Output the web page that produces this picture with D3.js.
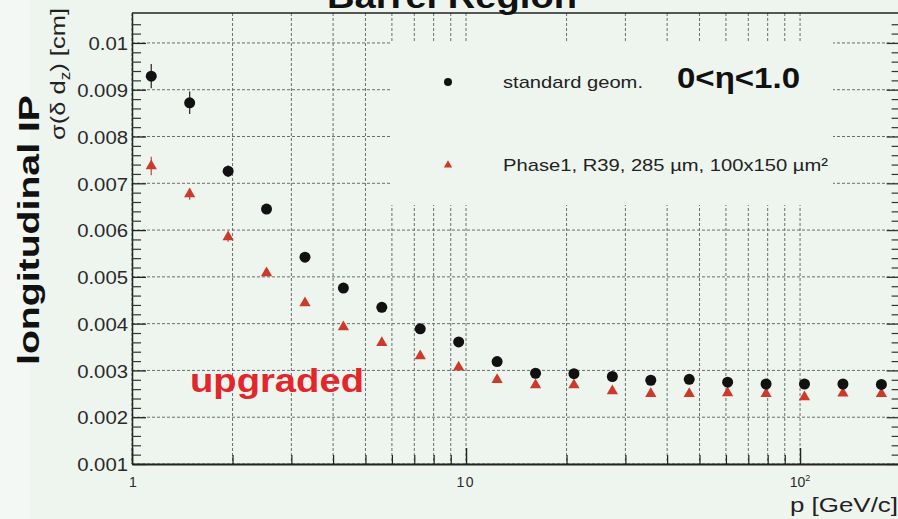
<!DOCTYPE html>
<html>
<head>
<meta charset="utf-8">
<script src="https://cdn.jsdelivr.net/npm/d3@7"></script>
<style>
  html, body { margin: 0; padding: 0; background: #eef5ef; }
  svg { display: block; }
  text { font-family: "Liberation Sans", Arial, Helvetica, sans-serif; }
</style>
</head>
<body>
<svg id="chart" width="898" height="519"></svg>
<script>
// Momentum bin centres [GeV/c] (20 log bins between 1 and 200)
const momentum = [1.142, 1.488, 1.940, 2.528, 3.295, 4.294, 5.596, 7.293, 9.505, 12.39,
                  16.15, 21.04, 27.42, 35.74, 46.58, 60.70, 79.11, 103.1, 134.4, 175.2];
// Longitudinal impact-parameter resolution sigma(delta d_z) [cm]
const standardSigma = [0.00929, 0.00872, 0.00726, 0.00645, 0.00542, 0.00476, 0.00435, 0.00389, 0.00361, 0.00319,
                       0.00294, 0.00293, 0.00287, 0.00279, 0.00281, 0.00275, 0.00271, 0.00271, 0.00271, 0.00270];
const standardErr   = [0.00026, 0.00024, 0.00012, 0.00007, 0.00006, 0.00005, 0.00004, 0.00004, 0.00004, 0.00003,
                       0.00003, 0.00003, 0.00003, 0.00003, 0.00003, 0.00003, 0.00003, 0.00003, 0.00003, 0.00003];
const phase1Sigma   = [0.00737, 0.00677, 0.00585, 0.00508, 0.00444, 0.00393, 0.00359, 0.00331, 0.00307, 0.00280,
                       0.00269, 0.00269, 0.00256, 0.00250, 0.00250, 0.00252, 0.00250, 0.00243, 0.00251, 0.00250];
const phase1Err     = [0.00020, 0.00012, 0.00010, 0.00006, 0.00005, 0.00004, 0.00004, 0.00003, 0.00003, 0.00003,
                       0.00003, 0.00003, 0.00003, 0.00003, 0.00003, 0.00003, 0.00003, 0.00003, 0.00003, 0.00003];

const seriesNames = ["standard geom.", "Phase1, R39, 285 \u00b5m, 100x150 \u00b5m\u00b2"];
const yTickValues = [0.001, 0.002, 0.003, 0.004, 0.005, 0.006, 0.007, 0.008, 0.009, 0.01];
const yTickLabels = ["0.001", "0.002", "0.003", "0.004", "0.005", "0.006", "0.007", "0.008", "0.009", "0.01"];
const xMajorTicks = [1, 10, 100];
const xMinorTicks = [2, 3, 4, 5, 6, 7, 8, 9, 20, 30, 40, 50, 60, 70, 80, 90, 200];

const svg = d3.select("#chart");
const bg = "#eef5ef";

const frame = { left: 132, right: 900.6, top: 13, bottom: 464 };
const x = d3.scaleLog().domain([1, 200]).range([frame.left, frame.right]);
const y = d3.scaleLinear().domain([0.001, 0.01064]).range([frame.bottom, frame.top]);

// lighter strip at the far left of the canvas
svg.append("rect").attr("x", 0).attr("y", 0).attr("width", 30).attr("height", 519).attr("fill", "#f4f8f4");

// grid
const grid = svg.append("g").attr("stroke", "#555").attr("stroke-width", 1)
  .attr("stroke-dasharray", "3,2").attr("opacity", 0.85);
grid.selectAll("line.v").data(xMajorTicks.concat(xMinorTicks)).join("line")
  .attr("x1", d => x(d)).attr("x2", d => x(d)).attr("y1", frame.top).attr("y2", frame.bottom);
grid.selectAll("line.h").data(yTickValues).join("line")
  .attr("x1", frame.left).attr("x2", frame.right).attr("y1", d => y(d)).attr("y2", d => y(d));

// legend area covers the grid
svg.append("rect").attr("x", 390).attr("y", 42).attr("width", 443).attr("height", 163).attr("fill", bg);

// minor tick positions on the value axis (every 0.0002)
const yMinor = d3.range(12, 106, 2).filter(v => v % 10 !== 0).map(v => v / 10000);

// left axis, ticks pointing inwards
const yAxis = d3.axisLeft(y).tickValues(yTickValues)
  .tickFormat((d, i) => yTickLabels[i]).tickSizeInner(-14).tickSizeOuter(0).tickPadding(5);
const gy = svg.append("g").attr("transform", `translate(${frame.left},0)`).call(yAxis);
gy.select(".domain").attr("stroke", "#222").attr("stroke-width", 1.5);
gy.selectAll(".tick line").attr("stroke", "#222").attr("stroke-width", 1.3);
gy.selectAll(".tick text").attr("font-size", 18).attr("fill", "#2a2a2a")
  .attr("x", 0).attr("transform", "translate(-4,1) scale(1.13,1)");
svg.append("g").attr("transform", `translate(${frame.left},0)`)
  .call(d3.axisLeft(y).tickValues(yMinor).tickSizeInner(-9).tickSizeOuter(0).tickFormat(""))
  .call(g => g.select(".domain").remove())
  .selectAll("line").attr("stroke", "#333").attr("stroke-width", 1.2);

// right axis ticks
svg.append("g").attr("transform", `translate(${frame.right},0)`)
  .call(d3.axisRight(y).tickValues(yTickValues).tickSizeInner(-14).tickSizeOuter(0).tickFormat(""))
  .selectAll("line").attr("stroke", "#333").attr("stroke-width", 1.3);
svg.append("g").attr("transform", `translate(${frame.right},0)`)
  .call(d3.axisRight(y).tickValues(yMinor).tickSizeInner(-9).tickSizeOuter(0).tickFormat(""))
  .call(g => g.select(".domain").remove())
  .selectAll("line").attr("stroke", "#333").attr("stroke-width", 1.2);

// bottom axis
const xAxis = d3.axisBottom(x).tickValues(xMajorTicks).tickSizeInner(-16).tickSizeOuter(0)
  .tickFormat(() => "");
const gx = svg.append("g").attr("transform", `translate(0,${frame.bottom})`).call(xAxis);
gx.select(".domain").attr("stroke", "#222").attr("stroke-width", 2);
gx.selectAll(".tick line").attr("stroke", "#222").attr("stroke-width", 1.4);
svg.append("g").attr("transform", `translate(0,${frame.bottom})`)
  .call(d3.axisBottom(x).tickValues(xMinorTicks).tickSizeInner(-9).tickSizeOuter(0).tickFormat(""))
  .call(g => g.select(".domain").remove())
  .selectAll("line").attr("stroke", "#222").attr("stroke-width", 1.2);
// x tick labels: 1, 10, 10^2
const xl = svg.append("g").attr("font-size", 14).attr("fill", "#2a2a2a").attr("text-anchor", "middle");
xl.append("text").attr("x", x(1) + 1).attr("y", 487).text("1");
xl.append("text").attr("x", x(10) - 1).attr("y", 487).attr("textLength", 17).text("10");
const t100 = xl.append("text").attr("x", x(100)).attr("y", 487);
t100.append("tspan").text("10");
t100.append("tspan").attr("font-size", 9).attr("dy", -6).text("2");

// top frame
svg.append("line").attr("x1", frame.left).attr("x2", frame.right).attr("y1", frame.top).attr("y2", frame.top)
  .attr("stroke", "#222").attr("stroke-width", 1.5);

// error bars
const eb = svg.append("g");
eb.selectAll("line.s").data(momentum).join("line")
  .attr("x1", d => x(d)).attr("x2", d => x(d))
  .attr("y1", (d, i) => y(standardSigma[i] + standardErr[i]))
  .attr("y2", (d, i) => y(standardSigma[i] - standardErr[i]))
  .attr("stroke", "#333").attr("stroke-width", 1.3);
const eb2 = svg.append("g");
eb2.selectAll("line").data(momentum).join("line")
  .attr("x1", d => x(d)).attr("x2", d => x(d))
  .attr("y1", (d, i) => y(phase1Sigma[i] + phase1Err[i]))
  .attr("y2", (d, i) => y(phase1Sigma[i] - phase1Err[i]))
  .attr("stroke", "#b55").attr("stroke-width", 1.3);

// markers
const red = "#cc3a2c";
const tri = d3.symbol().type(d3.symbolTriangle).size(55);
svg.append("g").selectAll("path").data(momentum).join("path")
  .attr("d", tri).attr("fill", red)
  .attr("transform", (d, i) => `translate(${x(d)},${y(phase1Sigma[i])})`);
svg.append("g").selectAll("circle").data(momentum).join("circle")
  .attr("cx", d => x(d)).attr("cy", (d, i) => y(standardSigma[i])).attr("r", 5.5).attr("fill", "#111");

// legend
svg.append("circle").attr("cx", 448).attr("cy", 82).attr("r", 4).attr("fill", "#111");
svg.append("path").attr("d", d3.symbol().type(d3.symbolTriangle).size(30))
  .attr("transform", "translate(448,165)").attr("fill", red);
svg.append("text").attr("x", 503).attr("y", 88).attr("font-size", 17).attr("fill", "#222")
  .attr("textLength", 140).attr("lengthAdjust", "spacingAndGlyphs").text(seriesNames[0]);
svg.append("text").attr("x", 503).attr("y", 171).attr("font-size", 17).attr("fill", "#222")
  .attr("textLength", 325).attr("lengthAdjust", "spacingAndGlyphs").text(seriesNames[1]);

// annotations
svg.append("text").attr("x", 677).attr("y", 88).attr("font-size", 29).attr("font-weight", "bold")
  .attr("fill", "#111").attr("textLength", 123).attr("lengthAdjust", "spacingAndGlyphs").text("0<\u03b7<1.0");
svg.append("text").attr("x", 190).attr("y", 392).attr("font-size", 33).attr("font-weight", "bold")
  .attr("fill", "#e3262b").attr("textLength", 174).attr("lengthAdjust", "spacingAndGlyphs").text("upgraded");

// title
svg.append("text").attr("x", 452).attr("y", 8).attr("text-anchor", "middle")
  .attr("font-size", 34).attr("font-weight", "bold").attr("fill", "#111")
  .attr("textLength", 250).attr("lengthAdjust", "spacingAndGlyphs").text("Barrel Region");

// axis titles
svg.append("text").attr("x", 898).attr("y", 512).attr("text-anchor", "end")
  .attr("font-size", 21).attr("fill", "#222")
  .attr("textLength", 108).attr("lengthAdjust", "spacingAndGlyphs").text("p [GeV/c]");

const sy = svg.append("text").attr("transform", "translate(65,74) rotate(-90)")
  .attr("text-anchor", "middle").attr("font-size", 21).attr("fill", "#222")
  .attr("textLength", 132).attr("lengthAdjust", "spacingAndGlyphs");
sy.append("tspan").text("\u03c3(\u03b4 d");
sy.append("tspan").attr("font-size", 14).attr("dy", 5).text("z");
sy.append("tspan").attr("dy", -5).text(") [cm]");

svg.append("text").attr("transform", "translate(39,230) rotate(-90)")
  .attr("text-anchor", "middle").attr("font-size", 30).attr("font-weight", "bold").attr("fill", "#111")
  .attr("textLength", 270).attr("lengthAdjust", "spacingAndGlyphs").text("longitudinal IP");
</script>
</body>
</html>
